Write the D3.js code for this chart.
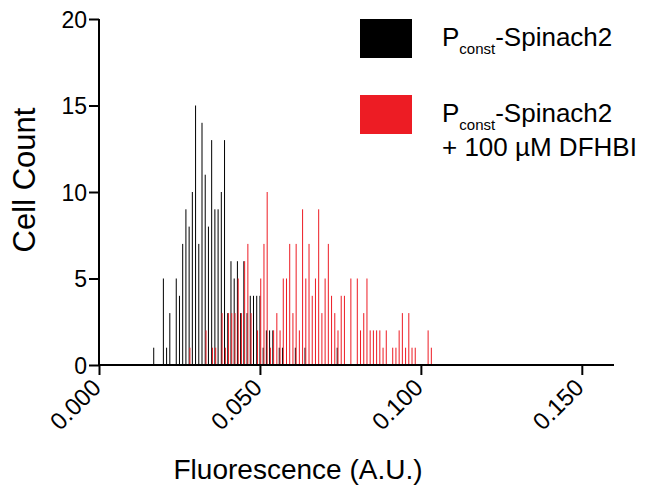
<!DOCTYPE html>
<html><head><meta charset="utf-8">
<script src="https://cdn.jsdelivr.net/npm/d3@7"></script>
<style>body{margin:0;background:#fff}svg{display:block}text{font-family:"Liberation Sans",Arial,Helvetica,sans-serif}</style>
</head><body>
<svg id="c" width="647" height="499"></svg>
<script>
// Bin centres in thousandths of fluorescence units (A.U. x 1000)
const blackBins   = [17,20,21,22,24,25,26,27,28,29,30,31,32,33,34,35,36,37,38,39,40,41,42,43,44,45,46,47,48,49,50,51,52,53,54,56,57,61,64,74];
const blackCounts = [1, 5, 1, 3, 5, 4, 7, 9, 8, 10,15,7, 14,11,8, 13,9, 9, 10,13,3, 6, 5, 6, 3, 6, 3, 4, 4, 4, 4, 1, 2, 2, 2, 1, 1, 1, 1, 1];
const redBins   = [28,33,35,36,38,39,40,41,42,43,44,45,46,47,49,50,51,52,53,54,55,56,57,58,59,60,61,62,63,64,65,66,67,68,69,70,71,72,73,74,75,76,78,80,81,82,83,84,85,86,87,88,89,91,92,93,94,95,96,97,98,102,103];
const redCounts = [1, 2, 1, 1, 3, 1, 3, 3, 3, 5, 3, 6, 7, 3, 2, 5, 7, 10,1, 2, 3, 2, 5, 5, 7, 3, 7, 2, 9, 5, 7, 4, 5, 9, 3, 5, 7, 4, 3, 2, 4, 4, 5, 5, 2, 3, 5, 2, 2, 2, 2, 1, 2, 1, 1, 2, 3, 1, 3, 1, 1, 2, 1];
const xTicks = [0, 0.05, 0.10, 0.15];
const xTickLabels = ["0.000","0.050","0.100","0.150"];
const yTicks = [0,5,10,15,20];
const seriesNames = ["black","red"];
const seriesColors = ["#000000","#ED1C24"];

const svg = d3.select("#c");
const x = d3.scaleLinear().domain([0,0.16]).range([99,614]);
const y = d3.scaleLinear().domain([0,20]).range([365,19]);
const off = d3.scalePoint().domain(seriesNames).range([0,0.8]);
const color = d3.scaleOrdinal().domain(seriesNames).range(seriesColors);

function drawBars(bins, counts, name){
  const data = bins.map((b,i)=>({v:b/1000,c:counts[i]}));
  svg.append("g").selectAll("rect").data(data).join("rect")
    .attr("x", d=>x(d.v)+off(name)-0.5)
    .attr("width",1)
    .attr("y", d=>y(d.c))
    .attr("height", d=>y(0)-y(d.c))
    .attr("fill", color(name));
}
drawBars(blackBins, blackCounts, "black");
drawBars(redBins, redCounts, "red");

// Y axis
const ya = svg.append("g").attr("transform","translate(99,0)")
  .call(d3.axisLeft(y).tickValues(yTicks).tickSize(10).tickSizeOuter(0).tickFormat(d3.format("d")));
ya.select(".domain").attr("stroke-width",2).attr("d","M0,"+(y(20))+"V"+y(0));
ya.selectAll(".tick line").attr("stroke-width",2);
ya.selectAll(".tick text").attr("font-size",23).attr("x",-12).attr("dy","0.36em").attr("fill","#000");

// X axis
const xa = svg.append("g").attr("transform","translate(0,365)")
  .call(d3.axisBottom(x).tickValues(xTicks).tickSize(10).tickSizeOuter(0).tickFormat((d,i)=>xTickLabels[i]));
xa.select(".domain").attr("stroke-width",2).attr("d","M"+(x(0)-1)+",0H"+x(0.16));
xa.selectAll(".tick line").attr("stroke-width",2);
xa.selectAll(".tick text").attr("font-size",24).attr("fill","#000")
  .attr("text-anchor","end").attr("dy",0).attr("y",0)
  .attr("transform","translate(3,24) rotate(-45)");

// Titles
svg.append("text").attr("x",298).attr("y",479).attr("text-anchor","middle")
  .attr("font-size",28).text("Fluorescence (A.U.)");
svg.append("text").attr("transform","translate(35,180) rotate(-90)").attr("text-anchor","middle")
  .attr("font-size",31).text("Cell Count");

// Legend
const leg = svg.append("g");
leg.append("rect").attr("x",360).attr("y",19).attr("width",52).attr("height",39).attr("fill",seriesColors[0]);
leg.append("rect").attr("x",360).attr("y",95).attr("width",52).attr("height",39).attr("fill",seriesColors[1]);
function legText(yb){
  const t = leg.append("text").attr("x",442).attr("y",yb).attr("font-size",26);
  t.append("tspan").text("P");
  t.append("tspan").attr("font-size",15).attr("dy",8).text("const");
  t.append("tspan").attr("dy",-8).text("-Spinach2");
}
legText(46);
legText(122);
leg.append("text").attr("x",442).attr("y",156).attr("font-size",26).text("+ 100 µM DFHBI");
</script>
</body></html>
